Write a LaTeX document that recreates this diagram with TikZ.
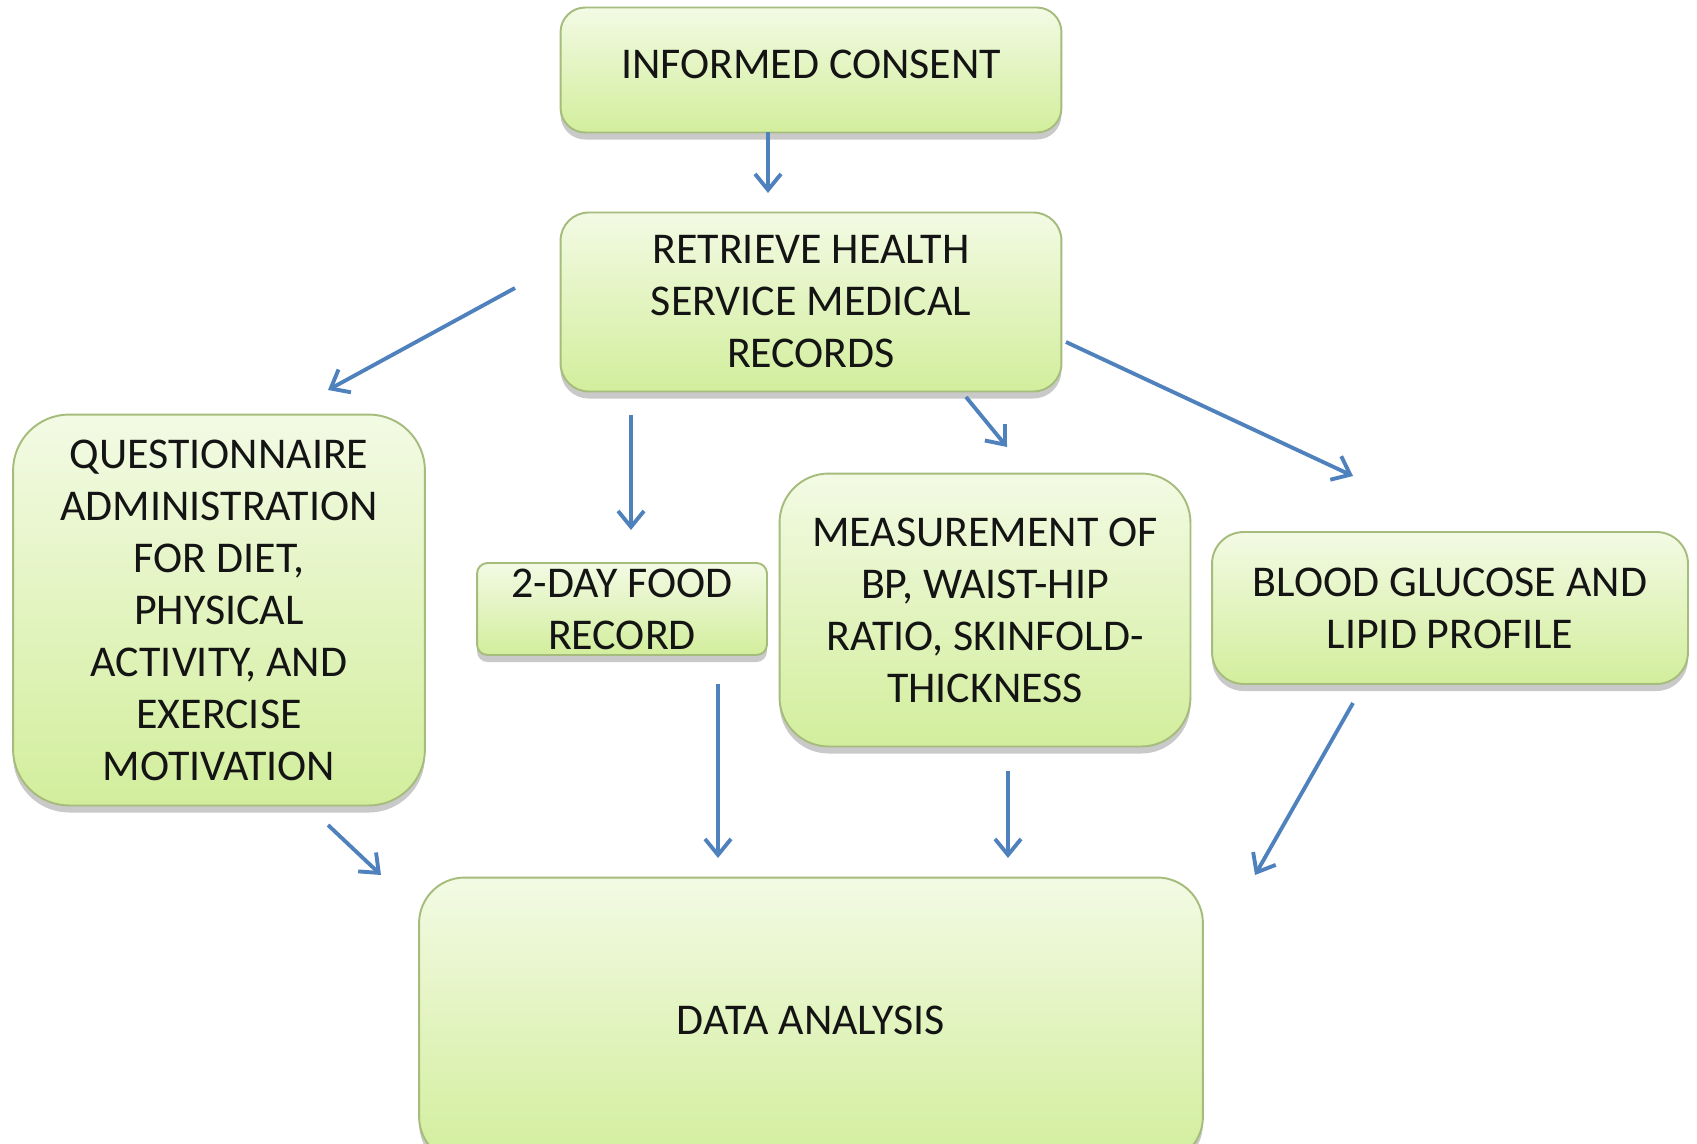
\documentclass[tikz,border=0pt]{standalone}
\usepackage{fontspec}
\setmainfont{Carlito}
\usetikzlibrary{arrows.meta, shadows}
\definecolor{cblue}{HTML}{4F81BD}
\definecolor{cedge}{HTML}{A6BC7C}
\definecolor{ctop}{HTML}{F3FAE4}
\definecolor{cbottom}{HTML}{D2EE9C}
\definecolor{ctext}{HTML}{141414}
\tikzset{
  every picture/.style={font=\fontsize{25}{29.6}\selectfont, line width=1.1pt},
  box/.style={draw=cedge, top color=ctop, bottom color=cbottom, rounded corners=#1, align=center, text=ctext, inner sep=0pt,
    drop shadow={shadow xshift=0pt, shadow yshift=-4pt, opacity=.3, fill=black!70}},
  box/.default=14pt,
  arrow/.style={-{Straight Barb[length=3.2mm, width=5.2mm]}, draw=cblue, line width=2.2pt},
}

\begin{document}
\begin{tikzpicture}[x=0.02cm, y=-0.02cm]
  \useasboundingbox (0,0) rectangle (1697,1143);
  \clip (0,0) rectangle (1697,1143);
  % top: consent, then the records
  \node[box=14pt, minimum width=10.02cm, minimum height=2.5cm] (ic) at (811,70) {\raisebox{7pt}{INFORMED CONSENT}};
  \node[box=16pt, minimum width=10.02cm, minimum height=3.58cm] (rec) at (811,302) {RETRIEVE HEALTH\\SERVICE MEDICAL\\RECORDS};
  % middle row: the four collections
  \node[box=32pt, minimum width=8.24cm, minimum height=7.82cm] (quest) at (219,610) {QUESTIONNAIRE\\ADMINISTRATION\\FOR DIET,\\PHYSICAL\\ACTIVITY, AND\\EXERCISE\\MOTIVATION};
  \node[box=6pt, minimum width=5.8cm, minimum height=1.84cm] (food) at (622,609) {2-DAY FOOD\\RECORD};
  \node[box=28pt, minimum width=8.22cm, minimum height=5.46cm] (meas) at (985,610) {MEASUREMENT OF\\BP, WAIST-HIP\\RATIO, SKINFOLD-\\THICKNESS};
  \node[box=18pt, minimum width=9.52cm, minimum height=3.04cm] (blood) at (1450,608) {BLOOD GLUCOSE AND\\LIPID PROFILE};
  % bottom: analysis
  \node[box=26pt, minimum width=15.68cm, minimum height=5.7cm] (data) at (811,1020) {DATA ANALYSIS};
  % arrow ends, they float in the gaps
  \coordinate (ic-out) at (768,132);   \coordinate (rec-in) at (768,193);
  \coordinate (rec-q) at (515,288);    \coordinate (quest-in) at (328,390);
  \coordinate (rec-f) at (631,415);    \coordinate (food-in) at (631,530);
  \coordinate (rec-m) at (966,397);    \coordinate (meas-in) at (1007,447);
  \coordinate (rec-b) at (1066,342);   \coordinate (blood-in) at (1353,476);
  \coordinate (quest-out) at (328,825); \coordinate (data-q) at (381,875);
  \coordinate (food-out) at (718,684); \coordinate (data-f) at (718,858);
  \coordinate (meas-out) at (1008,771); \coordinate (data-m) at (1008,858);
  \coordinate (blood-out) at (1353,703); \coordinate (data-b) at (1255,875);
  \draw[arrow] (ic-out) -- (rec-in);
  \draw[arrow] (rec-q) -- (quest-in);
  \draw[arrow] (rec-f) -- (food-in);
  \draw[arrow] (rec-m) -- (meas-in);
  \draw[arrow] (rec-b) -- (blood-in);
  \draw[arrow] (quest-out) -- (data-q);
  \draw[arrow] (food-out) -- (data-f);
  \draw[arrow] (meas-out) -- (data-m);
  \draw[arrow] (blood-out) -- (data-b);
\end{tikzpicture}
\end{document}
